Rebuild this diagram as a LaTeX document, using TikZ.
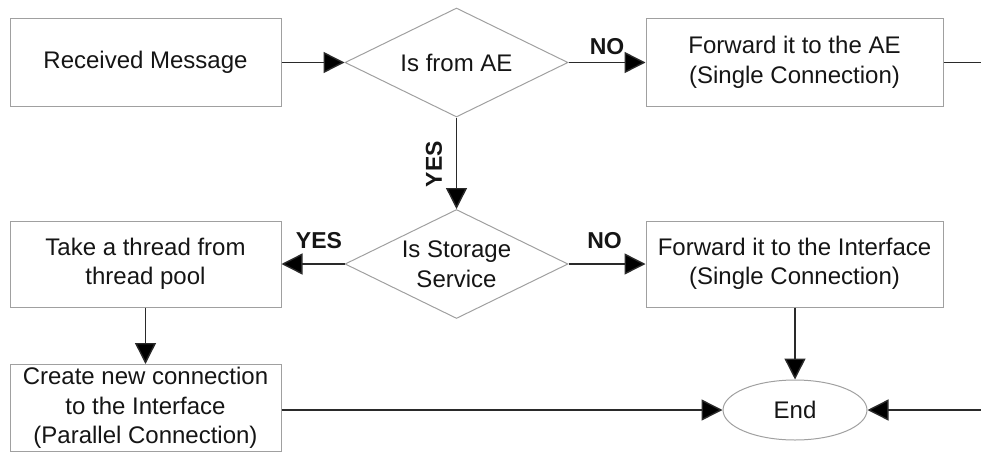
\documentclass[tikz,border=0pt]{standalone}
\usepackage{fontspec}
\setmainfont{Liberation Sans}
\usetikzlibrary{shapes.geometric,arrows.meta}
\definecolor{boxline}{HTML}{A0A0A0}
\definecolor{conn}{HTML}{2A2A2A}
\definecolor{txt}{HTML}{151515}
\tikzset{
  procbox/.style={draw=boxline,line width=1pt,rectangle,minimum height=87pt,inner sep=0pt,align=center,text=txt,font=\fontsize{24}{29.5}\selectfont},
  decision/.style={draw=boxline,line width=1pt,diamond,aspect=2.05,minimum width=223pt,minimum height=109pt,inner sep=0pt,align=center,text=txt,font=\fontsize{24}{29.5}\selectfont},
  terminal/.style={draw=boxline,line width=1pt,ellipse,minimum width=144pt,minimum height=60pt,inner sep=0pt,text=txt,font=\fontsize{24}{29.5}\selectfont},
  flow/.style={draw=conn,line width=1.4pt,-{Triangle[length=21pt,width=21pt,fill=black]}},
  plainflow/.style={draw=conn,line width=1.4pt},
  tag/.style={font=\bfseries\fontsize{23}{27}\selectfont,text=txt,inner sep=0pt}
}
\begin{document}
\begin{tikzpicture}[x=1pt,y=-1pt]
\useasboundingbox (0,0) rectangle (981,452);
\node[procbox,minimum width=271pt] (recv) at (145.5,62.5) {Received Message};
\node[decision] (isae) at (456.5,62.5) {Is from AE};
\node[procbox,minimum width=297pt] (fwdae) at (794.5,62.5) {Forward it to the AE\\(Single Connection)};
\node[decision] (isss) at (456.5,264) {Is Storage\\Service};
\node[procbox,minimum width=271pt,minimum height=86pt] (take) at (145.5,264) {Take a thread from\\thread pool};
\node[procbox,minimum width=297pt,minimum height=86pt] (fwdif) at (794.5,264) {Forward it to the Interface\\(Single Connection)};
\node[procbox,minimum width=271pt,minimum height=87pt] (create) at (145.5,408) {Create new connection\\to the Interface\\(Parallel Connection)};
\node[terminal] (end) at (795,410) {End};
\coordinate (edgeA) at (981,62.5);
\coordinate (edgeB) at (981,410);

\draw[flow] (recv) -- (isae);
\draw[flow] (isae) -- (fwdae);
\draw[plainflow] (fwdae) -- (edgeA);
\draw[flow] (isae) -- (isss);
\draw[flow] (isss) -- (take);
\draw[flow] (isss) -- (fwdif);
\draw[flow] (take) -- (create);
\draw[flow] (fwdif.south -| end.north) -- (end.north);
\draw[flow] (create.east |- end.west) -- (end.west);
\draw[flow] (edgeB) -- (end.east);

\node[tag] (noA) at (607,47) {NO};
\node[tag,rotate=90] (yesA) at (434,164) {YES};
\node[tag] (yesB) at (319,241) {YES};
\node[tag] (noB) at (604.5,241) {NO};
\end{tikzpicture}
\end{document}
